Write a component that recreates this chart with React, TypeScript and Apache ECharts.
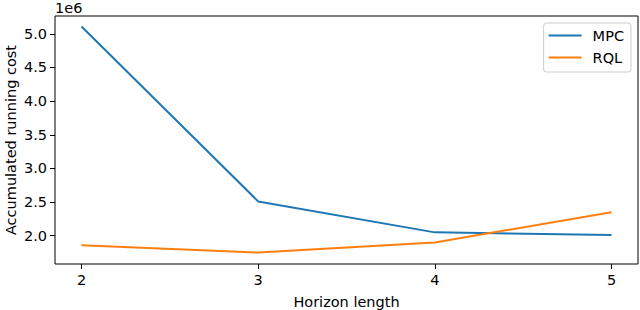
import React, { useEffect, useRef } from "react";
import * as echarts from "echarts";

const horizons = [2, 3, 4, 5];
const mpcCost = [5.11, 2.51, 2.05, 2.01];
const rqlCost = [1.86, 1.75, 1.9, 2.35];
const yTicks = [2.0, 2.5, 3.0, 3.5, 4.0, 4.5, 5.0];
const xTicks = [2, 3, 4, 5];

const FONT = "DejaVu Sans";
const FS = 14.5;

export default function App() {
  const ref = useRef<HTMLDivElement>(null);
  useEffect(() => {
    if (!ref.current) return;
    const chart = echarts.init(ref.current, null, { renderer: "svg" });
    chart.setOption({
      animation: false,
      backgroundColor: "#ffffff",
      textStyle: { fontFamily: FONT },
      grid: {
        left: 55,
        right: 2,
        top: 16,
        bottom: 46,
        show: true,
        borderColor: "#000",
        borderWidth: 1,
        backgroundColor: "transparent",
        outerBoundsMode: "none",
        containLabel: false,
      },
      legend: {
        orient: "vertical",
        right: 9,
        top: 23,
        icon: "rect",
        itemWidth: 33,
        itemHeight: 2,
        itemGap: 7,
        padding: [5, 7, 7, 5],
        borderColor: "#cccccc",
        borderWidth: 1,
        borderRadius: 3,
        textStyle: {
          fontFamily: FONT,
          fontSize: FS,
          color: "#000",
          padding: [0, 0, 0, 6],
        },
        data: ["MPC", "RQL"],
      },
      xAxis: {
        type: "value",
        min: 1.85,
        max: 5.15,
        name: "Horizon length",
        nameLocation: "middle",
        nameGap: 30,
        nameMoveOverlap: false,
        nameTextStyle: { fontFamily: FONT, fontSize: FS, color: "#000" },
        axisLine: { show: false },
        splitLine: { show: false },
        axisTick: {
          show: true,
          length: 5,
          lineStyle: { color: "#000" },
          customValues: xTicks,
        },
        axisLabel: {
          fontFamily: FONT,
          fontSize: FS,
          color: "#000",
          margin: 8,
          customValues: xTicks,
          formatter: (v: number) => String(v),
        },
      },
      yAxis: {
        type: "value",
        min: 1.58,
        max: 5.265,
        name: "Accumulated running cost",
        nameLocation: "middle",
        nameGap: 37,
        nameMoveOverlap: false,
        nameRotate: 90,
        nameTextStyle: { fontFamily: FONT, fontSize: FS, color: "#000" },
        axisLine: { show: false },
        splitLine: { show: false },
        axisTick: {
          show: true,
          length: 5,
          lineStyle: { color: "#000" },
          customValues: yTicks,
        },
        axisLabel: {
          fontFamily: FONT,
          fontSize: FS,
          color: "#000",
          margin: 8,
          customValues: yTicks,
          formatter: (v: number) => v.toFixed(1),
        },
      },
      graphic: [
        {
          type: "text",
          left: 55,
          top: 0,
          style: { text: "1e6", fontFamily: FONT, fontSize: FS, fill: "#000" },
        },
      ],
      series: [
        {
          name: "MPC",
          type: "line",
          symbol: "none",
          color: "#1f77b4",
          lineStyle: { width: 2, color: "#1f77b4" },
          data: horizons.map((h, i) => [h, mpcCost[i]]),
        },
        {
          name: "RQL",
          type: "line",
          symbol: "none",
          color: "#ff7f0e",
          lineStyle: { width: 2, color: "#ff7f0e" },
          data: horizons.map((h, i) => [h, rqlCost[i]]),
        },
      ],
    });
    return () => chart.dispose();
  }, []);
  return (
    <div
      ref={ref}
      style={{ position: "fixed", left: 0, top: 0, width: 640, height: 310 }}
    />
  );
}
